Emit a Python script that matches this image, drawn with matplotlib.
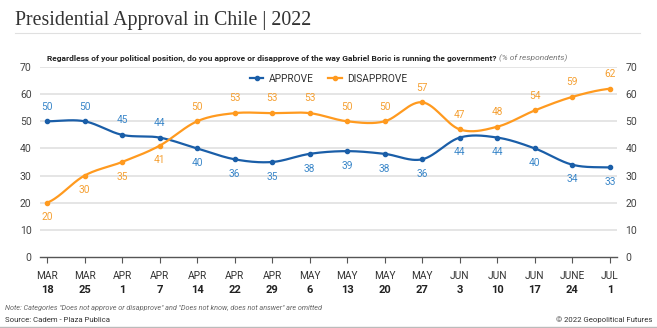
import numpy as np
import matplotlib.pyplot as plt
from matplotlib.lines import Line2D

months = ["MAR", "MAR", "APR", "APR", "APR", "APR", "APR", "MAY", "MAY", "MAY",
          "MAY", "JUN", "JUN", "JUN", "JUNE", "JUL"]
days = ["18", "25", "1", "7", "14", "22", "29", "6", "13", "20", "27", "3", "10",
        "17", "24", "1"]
approve = [50, 50, 45, 44, 40, 36, 35, 38, 39, 38, 36, 44, 44, 40, 34, 33]
disapprove = [20, 30, 35, 41, 50, 53, 53, 53, 50, 50, 57, 47, 48, 54, 59, 62]

BLUE = "#1a5ea8"
BLUE_LBL = "#3b87c9"
ORANGE = "#ff9a1f"
ORANGE_LBL = "#f5a033"


def catmull(y, n=30):
    # smooth curve through the points for drawing the line only
    y = np.asarray(y, float)
    p = np.concatenate([[y[0]], y, [y[-1]]])
    xs, ys = [], []
    for i in range(len(y) - 1):
        p0, p1, p2, p3 = p[i], p[i + 1], p[i + 2], p[i + 3]
        t = np.linspace(0, 1, n, endpoint=False)
        yy = 0.5 * (2 * p1 + (-p0 + p2) * t + (2 * p0 - 5 * p1 + 4 * p2 - p3) * t ** 2
                    + (-p0 + 3 * p1 - 3 * p2 + p3) * t ** 3)
        xs.append(i + t)
        ys.append(yy)
    xs.append([len(y) - 1])
    ys.append([y[-1]])
    return np.concatenate(xs), np.concatenate(ys)


plt.rcParams['font.family'] = ['Roboto', 'DejaVu Sans']

fig = plt.figure(figsize=(6.57, 3.28), dpi=100)
W, H = 657, 328

ax = fig.add_axes([40 / W, 1 - 257 / H, (617 - 40) / W, (257 - 67) / H])
x = np.arange(len(approve))

for v in range(10, 71, 10):
    ax.axhline(v, color="#e3e3e3", lw=1.3, zorder=0)

bx, by = catmull(approve)
ox, oy = catmull(disapprove)
ax.plot(bx, by, color=BLUE, lw=1.6, zorder=3)
ax.plot(ox, oy, color=ORANGE, lw=1.6, zorder=3)
ax.plot(x, approve, "o", color=BLUE, ms=3, zorder=4)
ax.plot(x, disapprove, "o", color=ORANGE, ms=3, zorder=4)

for i, v in enumerate(approve):
    above = i < 4
    ax.annotate(str(v), (i, v), xytext=(0, 7 if above else -7), textcoords="offset points",
                ha="center", va="bottom" if above else "top", color=BLUE_LBL, fontsize=7.3)
for i, v in enumerate(disapprove):
    above = i >= 4
    ax.annotate(str(v), (i, v), xytext=(0, 7 if above else -7), textcoords="offset points",
                ha="center", va="bottom" if above else "top", color=ORANGE_LBL, fontsize=7.3)

ax.set_xlim(-0.187, 15.19)
ax.set_ylim(0, 70)
for s in ["top", "left", "right"]:
    ax.spines[s].set_visible(False)
ax.spines["bottom"].set_color("#555555")
ax.spines["bottom"].set_linewidth(1)
ax.set_xticks(x)
ax.set_xticklabels([])
ax.tick_params(axis="x", length=4, color="#555555", width=0.8)
ax.set_yticks(range(0, 71, 10))
ax.tick_params(axis="y", length=0, labelsize=7.5, labelcolor="#444444", pad=6,
               labelright=True, right=False)
for i in x:
    ax.text(i, -5.2, months[i], ha="center", va="top", fontsize=7.3, color="#333333")
    ax.text(i, -10.3, days[i], ha="center", va="top", fontsize=8, fontweight="bold",
            color="#222222")

# legend
h1 = Line2D([], [], color=BLUE, lw=1.6, marker="o", ms=3)
h2 = Line2D([], [], color=ORANGE, lw=1.6, marker="o", ms=3)
leg = ax.legend([h1, h2], ["APPROVE", "DISAPPROVE"], loc="center", ncol=2,
                bbox_to_anchor=(0.5, (257 - 79) / (257 - 67)), frameon=False,
                fontsize=7.3, handlelength=1.3, columnspacing=1.5, handletextpad=0.5)
for t in leg.get_texts():
    t.set_color("#333333")

# title and texts
fig.text(15 / W, 1 - 20 / H, "Presidential Approval in Chile | 2022",
         family=["Liberation Serif", "DejaVu Serif"], fontsize=14.3, color="#333333",
         va="center", ha="left")
fig.add_artist(Line2D([15 / W, 640 / W], [1 - 33 / H, 1 - 33 / H], color="#e0e0e0", lw=0.8))
t1 = fig.text(47 / W, 1 - 58 / H,
              "Regardless of your political position, do you approve or disapprove of the way "
              "Gabriel Boric is running the government?",
              fontsize=6.0, fontweight="bold", color="#222222", va="center", ha="left")
fig.canvas.draw()
bb = t1.get_window_extent()
fig.text(bb.x1 / W + 3 / W, 1 - 58 / H, "(% of respondents)", fontsize=6.0, style="italic",
         color="#777777", va="center", ha="left")

fig.text(5 / W, 1 - 308 / H,
         "Note: Categories \"Does not approve or disapprove\" and \"Does not know, does not answer\" are omitted",
         fontsize=5.2, style="italic", color="#666666", va="center", ha="left")
fig.text(5 / W, 1 - 320 / H, "Source: Cadem - Plaza Publica", fontsize=5.6, color="#333333",
         va="center", ha="left")
fig.text(652 / W, 1 - 320 / H, "\u00a9 2022 Geopolitical Futures", fontsize=5.6,
         color="#333333", va="center", ha="right")
fig.add_artist(Line2D([0, 1], [1 - 327 / H, 1 - 327 / H], color="#bbbbbb", lw=1))

fig.savefig("out.png", dpi=100)
